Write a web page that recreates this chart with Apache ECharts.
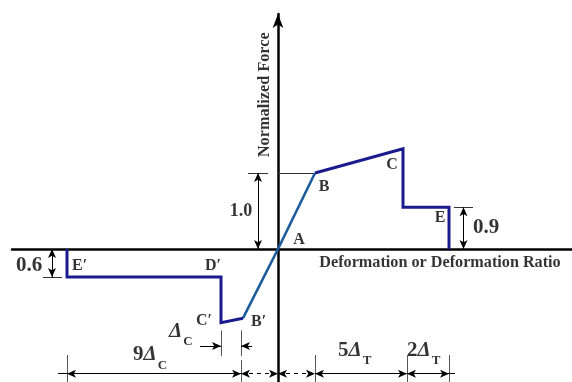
<!DOCTYPE html>
<html>
<head>
<meta charset="utf-8">
<script src="https://cdn.jsdelivr.net/npm/echarts@6/dist/echarts.min.js"></script>
<style>
  html, body { margin: 0; padding: 0; background: #fff; }
  #chart { width: 572px; height: 382px; }
</style>
</head>
<body>
<div id="chart"></div>
<script>
// Backbone curve: normalized force against deformation (schematic units)
const deformElastic = [-3.5, 0, 3.7];                       // B′ – A – B
const forceElastic = [-0.91, 0, 1.0];
const deformTension = [3.7, 12.5, 12.5, 17.1, 17.1];        // B – C – drop – E – zero
const forceTension = [1.0, 1.32, 0.55, 0.55, 0];
const deformCompression = [-3.5, -5.7, -5.7, -21.1, -21.1]; // B′ – C′ – D′ – E′ – zero
const forceCompression = [-0.91, -0.97, -0.37, -0.37, 0];

// Dimension annotations
const levelLabels = ['1.0', '0.9', '0.6'];
const chainStops = [-21.1, -3.7, 0, 3.7, 12.9, 17.1];       // bottom dimension chain
const chainTexts = [['9', 'C'], null, null, ['5', 'T'], ['2', 'T']];
const deltaCStops = [-5.7, -3.7];

const SERIF = 'Liberation Serif';
const NAVY = '#1b1b8e';
const STEEL = '#1d5c9c';
const INK = '#000';
const ARROW = [6, 9];

const zip = (xs, ys) => xs.map((x, i) => [x, ys[i]]);

// Named points on the curve
const pts = {
  A: [deformElastic[1], forceElastic[1]],
  B: [deformTension[0], forceTension[0]],
  C: [deformTension[1], forceTension[1]],
  E: [deformTension[3], forceTension[3]],
  Ep: [deformCompression[3], forceCompression[3]],
  Dp: [deformCompression[2], forceCompression[2]],
  Cp: [deformCompression[1], forceCompression[1]],
  Bp: [deformCompression[0], forceCompression[0]]
};

// one line segment for markLine, optional arrowheads at either end
function seg(p1, p2, a1, a2, style) {
  const ls = Object.assign({ color: INK, width: 1, type: 'solid', opacity: 1 }, style || {});
  return [
    { coord: p1, symbol: a1 ? 'arrow' : 'none', symbolSize: ARROW, lineStyle: ls },
    { coord: p2, symbol: a2 ? 'arrow' : 'none', symbolSize: ARROW, lineStyle: ls }
  ];
}

const yTop = pts.B[1], yE = pts.E[1], yEp = pts.Ep[1];
const annotations = [
  // yield level reference and its dimension
  seg([0, yTop], [pts.B[0], yTop], false, false, { color: '#333' }),
  seg([-3.0, yTop], [-1.0, yTop], false, false, { color: '#333' }),
  seg([-2.0, 0], [-2.0, yTop], true, true),
  // residual level on the tension side
  seg([17.6, yE], [19.5, yE], false, false, { color: '#333' }),
  seg([18.55, 0], [18.55, yE], true, true),
  // residual level on the compression side
  seg([-23.5, yEp], [-21.6, yEp], false, false, { color: '#333' }),
  seg([-22.6, 0], [-22.6, yEp], true, true),
  // Δc extension lines and inward arrows
  seg([deltaCStops[0], -1.07], [deltaCStops[0], -1.41], false, false, { color: '#555' }),
  seg([deltaCStops[1], -1.07], [deltaCStops[1], -1.41], false, false, { color: '#555' }),
  seg([-7.8, -1.276], [deltaCStops[0], -1.276], false, true),
  seg([-2.6, -1.276], [deltaCStops[1], -1.276], false, true)
];

// bottom chain: extension lines and dimension segments
const chainY = -1.64;
chainStops.forEach((x, i) => {
  if (x === 0) return;
  const top = (x === chainStops[1]) ? -1.46 : -1.395;
  annotations.push(seg([x, top], [x, -1.75], false, false, { color: '#555' }));
});
for (let i = 0; i < chainStops.length - 1; i++) {
  const dashed = chainTexts[i] === null;
  annotations.push(seg([chainStops[i], chainY], [chainStops[i + 1], chainY], true, true,
    dashed ? { type: [4, 4] } : {}));
}
annotations.push(seg([-22.0, chainY], [chainStops[0], chainY], false, false));
annotations.push(seg([chainStops[5], chainY], [17.7, chainY], false, false));

// text labels
const richDelta = {
  n: { fontFamily: SERIF, fontSize: 21, fontWeight: 'bold', color: INK },
  d: { fontFamily: SERIF, fontSize: 21, fontStyle: 'italic', color: INK },
  s: { fontFamily: SERIF, fontSize: 13, fontWeight: 'bold', color: INK, padding: [22, 0, 0, 1] }
};
function txt(at, text, opt) {
  const o = opt || {};
  return {
    value: at,
    label: Object.assign({
      show: true, position: [0, 0], formatter: text,
      align: 'center', verticalAlign: 'middle',
      fontFamily: SERIF, fontWeight: 'bold', fontSize: 16, color: INK
    }, o)
  };
}
const texts = [
  txt(pts.A, 'A', { offset: [21, -9] }),
  txt(pts.B, 'B', { offset: [9, 14] }),
  txt(pts.C, 'C', { offset: [-11, 16] }),
  txt(pts.E, 'E', { offset: [-9, 11] }),
  txt(pts.Ep, 'E′', { offset: [5, -11], align: 'left' }),
  txt(pts.Dp, 'D′', { offset: [-16, -11], align: 'left' }),
  txt(pts.Cp, 'C′', { offset: [-25, -2], align: 'left' }),
  txt(pts.Bp, 'B′', { offset: [8, 4], align: 'left' }),
  txt([-3.7, 0.5], levelLabels[0], { fontSize: 18 }),
  txt([20.8, 0.28], levelLabels[1], { fontSize: 21 }),
  txt([-24.9, -0.22], levelLabels[2], { fontSize: 21 }),
  txt([-10.9, -1.08], '{d|Δ}{s|C}', { align: 'left', rich: richDelta }),
  txt([-1.3, 2.03], 'Normalized Force', { rotate: 90, fontSize: 16.3 }),
  txt([16.2, -0.18], 'Deformation or Deformation Ratio', { fontSize: 16.2 })
];
const chainLabelLeft = [-14.5, null, null, 6.0, 12.9];
const chainLabelY = [-1.39, null, null, -1.33, -1.33];
chainTexts.forEach((t, i) => {
  if (!t) return;
  texts.push(txt([chainLabelLeft[i], chainLabelY[i]], '{n|' + t[0] + '}{d|Δ}{s|' + t[1] + '}',
    { align: 'left', rich: richDelta }));
});

const chart = echarts.init(document.getElementById('chart'), null, { renderer: 'canvas' });
chart.setOption({
  animation: false,
  backgroundColor: '#fff',
  grid: { left: 12, right: 0, top: 14, bottom: 0, containLabel: false },
  xAxis: {
    type: 'value', min: -26.6, max: 29.4,
    axisLine: { show: true, onZero: true, lineStyle: { color: INK, width: 2.5 } },
    axisTick: { show: false }, axisLabel: { show: false }, splitLine: { show: false }
  },
  yAxis: {
    type: 'value', min: -1.75, max: 235 / 76,
    axisLine: { show: true, onZero: true, symbol: ['none', 'arrow'], symbolSize: [8, 14],
      lineStyle: { color: INK, width: 2.5 } },
    axisTick: { show: false }, axisLabel: { show: false }, splitLine: { show: false }
  },
  series: [
    {
      type: 'line', data: zip(deformElastic, forceElastic), symbol: 'none', z: 5,
      lineStyle: { color: STEEL, width: 2.6 }, silent: true
    },
    {
      type: 'line', data: zip(deformTension, forceTension), symbol: 'none', z: 5,
      lineStyle: { color: NAVY, width: 3, join: 'miter' }, silent: true
    },
    {
      type: 'line', data: zip(deformCompression, forceCompression), symbol: 'none', z: 5,
      lineStyle: { color: NAVY, width: 3, join: 'miter' }, silent: true
    },
    {
      type: 'line', data: [], symbol: 'none', silent: true, z: 3,
      markLine: {
        silent: true, animation: false, label: { show: false },
        emphasis: { disabled: true },
        data: annotations
      }
    },
    {
      type: 'scatter', data: texts, symbolSize: 0, silent: true, z: 10
    }
  ]
});
</script>
</body>
</html>
